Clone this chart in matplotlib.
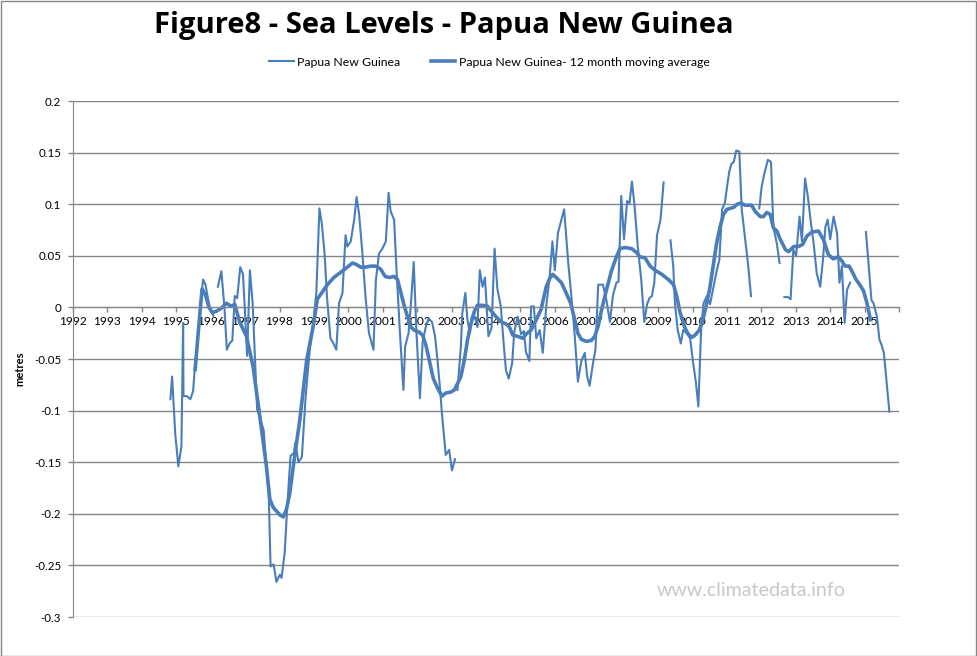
import numpy as np
import matplotlib
matplotlib.use("Agg")
import matplotlib.pyplot as plt
from matplotlib.lines import Line2D
from matplotlib.patches import Rectangle

nan = np.nan

title = "Figure8 - Sea Levels - Papua New Guinea"
raw_name = "Papua New Guinea"
ma_name = "Papua New Guinea- 12 month moving average"
y_label = "metres"
watermark = "www.climatedata.info"

year_ticks = list(range(1992, 2017))
year_labels = [str(y) for y in range(1992, 2016)] + [""]
y_ticks = [-0.3, -0.25, -0.2, -0.15, -0.1, -0.05, 0, 0.05, 0.1, 0.15, 0.2]
y_tick_labels = ["-0.3", "-0.25", "-0.2", "-0.15", "-0.1", "-0.05", "0", "0.05", "0.1", "0.15", "0.2"]

# monthly sea level (m), NaN marks gaps in the record
raw_years = [
    1994.83, 1994.88, 1994.97, 1995.06, 1995.15, 1995.2, 1995.21, 1995.31, 1995.41, 1995.49,
    1995.55, 1995.65, 1995.71, 1995.78, 1995.85, 1995.93, 1996.0, 1996.08, nan,
    1996.21, 1996.31, 1996.4, 1996.47, 1996.55, 1996.63, 1996.7, 1996.77, 1996.86, 1996.94,
    1997.06, 1997.14, 1997.22, 1997.35, 1997.45, 1997.54, 1997.69, 1997.74, 1997.83, 1997.91,
    1998.01, 1998.06, 1998.15, 1998.22, 1998.32, 1998.42, 1998.46, 1998.55, 1998.65, 1998.76,
    1998.88, 1999.0, 1999.07, 1999.16, 1999.23, 1999.31, 1999.38, 1999.48, 1999.57, 1999.65,
    1999.73, 1999.83, 1999.92, 1999.97, 2000.07, 2000.17, 2000.24, 2000.31, 2000.41, 2000.5,
    2000.6, 2000.73, 2000.8, 2000.89, 2000.99, 2001.09, 2001.17, 2001.23, 2001.33, 2001.41,
    2001.5, 2001.6, 2001.65, 2001.75, 2001.82, 2001.9, 2001.98, 2002.08, 2002.16, 2002.25,
    2002.33, 2002.43, 2002.52, 2002.59, 2002.66, 2002.72, 2002.79, 2002.83, 2002.93, 2003.01,
    2003.1, nan,
    2003.17, 2003.27, 2003.31, 2003.4, 2003.46, 2003.53, 2003.59, 2003.68, 2003.75, 2003.82,
    2003.9, 2003.97, 2004.07, 2004.16, 2004.25, 2004.33, 2004.43, 2004.52, 2004.58, 2004.66,
    2004.76, 2004.82, 2004.92, 2005.02, 2005.1, 2005.16, 2005.26, 2005.31, 2005.39, 2005.46,
    2005.56, 2005.65, 2005.75, 2005.85, 2005.93, 2006.0, 2006.09, 2006.19, 2006.27, 2006.39,
    2006.48, 2006.58, 2006.67, 2006.77, 2006.87, 2006.94, 2007.01, 2007.11, 2007.18, 2007.26,
    2007.4, 2007.5, 2007.6, 2007.69, 2007.79, 2007.85, 2007.93, 2008.01, 2008.1, 2008.17,
    2008.24, 2008.31, 2008.41, 2008.51, 2008.6, 2008.68, 2008.75, 2008.82, 2008.89, 2008.97,
    2009.07, 2009.16, nan,
    2009.36, 2009.44, 2009.49, 2009.57, 2009.66, 2009.73, 2009.83, 2009.93, 2010.02, 2010.1,
    2010.17, 2010.25, 2010.32, 2010.42, 2010.51, 2010.61, 2010.7, 2010.78, 2010.86, 2010.94,
    2011.0, 2011.07, 2011.13, 2011.2, 2011.27, 2011.36, 2011.43, 2011.53, 2011.61, 2011.7, nan,
    2011.94, 2012.01, 2012.09, 2012.19, 2012.28, 2012.35, 2012.45, 2012.53, nan,
    2012.67, 2012.77, 2012.85, 2012.93, 2013.01, 2013.11, 2013.18, 2013.27, 2013.35, 2013.44,
    2013.52, 2013.61, 2013.71, 2013.79, 2013.86, 2013.93, 2014.0, 2014.1, 2014.2, 2014.27,
    2014.34, 2014.42, 2014.49, 2014.58, nan,
    2015.04, 2015.12, 2015.2, 2015.26, 2015.36, 2015.43, 2015.49, 2015.56, 2015.64, 2015.72,
]
raw_values = [
    -0.089, -0.067, -0.122, -0.154, -0.135, -0.015, -0.086, -0.086, -0.089, -0.081,
    -0.054, -0.022, 0.005, 0.027, 0.022, 0.007, -0.003, -0.008, nan,
    0.020, 0.035, 0.000, -0.041, -0.035, -0.032, 0.011, 0.009, 0.039, 0.032,
    -0.047, 0.036, 0.004, -0.099, -0.109, -0.119, -0.185, -0.251, -0.249, -0.266,
    -0.259, -0.262, -0.238, -0.196, -0.144, -0.141, -0.131, -0.150, -0.145, -0.086,
    -0.041, -0.009, 0.014, 0.096, 0.081, 0.052, 0.010, -0.030, -0.035, -0.041,
    0.004, 0.014, 0.070, 0.059, 0.064, 0.085, 0.107, 0.091, 0.052, 0.010,
    -0.025, -0.041, 0.026, 0.052, 0.057, 0.064, 0.111, 0.093, 0.085, 0.030,
    -0.025, -0.080, -0.038, -0.025, 0.004, 0.044, -0.025, -0.088, -0.033, -0.019,
    -0.011, -0.014, -0.028, -0.051, -0.077, -0.103, -0.129, -0.143, -0.138, -0.158,
    -0.147, nan,
    -0.080, -0.038, -0.006, 0.014, -0.012, -0.025, -0.009, -0.009, -0.019, 0.036,
    0.020, 0.029, -0.028, -0.020, 0.057, 0.018, 0.001, -0.038, -0.061, -0.069,
    -0.054, -0.024, -0.009, -0.026, -0.023, -0.043, -0.052, 0.001, 0.001, -0.030,
    -0.022, -0.044, 0.001, 0.030, 0.064, 0.036, 0.072, 0.085, 0.095, 0.043,
    0.011, -0.028, -0.072, -0.052, -0.044, -0.067, -0.076, -0.054, -0.041, 0.022,
    0.022, 0.007, -0.014, 0.012, 0.024, 0.025, 0.108, 0.066, 0.103, 0.101,
    0.122, 0.101, 0.059, 0.027, -0.014, 0.003, 0.009, 0.011, 0.024, 0.070,
    0.085, 0.121, nan,
    0.065, 0.040, 0.004, -0.022, -0.035, -0.022, -0.025, -0.030, -0.054, -0.073,
    -0.096, -0.022, 0.004, 0.011, 0.003, 0.020, 0.035, 0.046, 0.095, 0.101,
    0.116, 0.132, 0.139, 0.141, 0.152, 0.151, 0.095, 0.066, 0.043, 0.011, nan,
    0.096, 0.117, 0.130, 0.143, 0.141, 0.078, 0.062, 0.043, nan,
    0.010, 0.010, 0.008, 0.056, 0.050, 0.088, 0.064, 0.125, 0.108, 0.082,
    0.062, 0.033, 0.020, 0.046, 0.078, 0.085, 0.066, 0.088, 0.072, 0.024,
    0.040, -0.015, 0.017, 0.024, nan,
    0.073, 0.040, 0.007, 0.004, -0.009, -0.031, -0.036, -0.044, -0.073, -0.101,
]

# 12 month moving average (m)
ma_years = [
    1995.55, 1995.65, 1995.75, 1995.85, 1995.95, 1996.05, 1996.15, 1996.3, 1996.46, 1996.6,
    1996.7, 1996.84, 1997.04, 1997.23, 1997.43, 1997.62, 1997.72, 1997.82, 1998.01, 1998.11,
    1998.2, 1998.3, 1998.4, 1998.59, 1998.79, 1998.98, 1999.1, 1999.39, 1999.58, 1999.78,
    1999.97, 2000.12, 2000.21, 2000.36, 2000.5, 2000.65, 2000.8, 2000.94, 2001.07, 2001.19,
    2001.33, 2001.43, 2001.53, 2001.62, 2001.72, 2001.82, 2001.91, 2002.06, 2002.16, 2002.25,
    2002.35, 2002.47, 2002.59, 2002.72, 2002.83, 2002.98, 2003.08, 2003.17, 2003.27, 2003.37,
    2003.46, 2003.56, 2003.66, 2003.75, 2003.9, 2004.05, 2004.14, 2004.29, 2004.44, 2004.58,
    2004.68, 2004.78, 2004.92, 2005.07, 2005.16, 2005.31, 2005.46, 2005.6, 2005.75, 2005.85,
    2005.94, 2006.04, 2006.19, 2006.33, 2006.46, 2006.58, 2006.67, 2006.77, 2006.92, 2007.06,
    2007.16, 2007.26, 2007.36, 2007.5, 2007.65, 2007.79, 2007.89, 2008.04, 2008.23, 2008.38,
    2008.47, 2008.62, 2008.77, 2008.91, 2009.11, 2009.3, 2009.45, 2009.54, 2009.64, 2009.78,
    2009.88, 2009.98, 2010.07, 2010.2, 2010.3, 2010.4, 2010.5, 2010.6, 2010.7, 2010.8,
    2010.9, 2011.0, 2011.1, 2011.2, 2011.3, 2011.4, 2011.53, 2011.72, 2011.82, 2011.97,
    2012.06, 2012.16, 2012.26, 2012.35, 2012.45, 2012.55, 2012.7, 2012.79, 2012.94, 2013.08,
    2013.2, 2013.32, 2013.47, 2013.66, 2013.8, 2013.95, 2014.09, 2014.24, 2014.34, 2014.43,
    2014.55, 2014.65, 2014.75, 2014.84, 2014.97, 2015.07, 2015.17,
]
ma_values = [
    -0.060, -0.020, 0.018, 0.012, 0.000, -0.005, -0.004, -0.001, 0.004, 0.001,
    0.003, -0.014, -0.028, -0.057, -0.106, -0.154, -0.186, -0.194, -0.201, -0.203,
    -0.196, -0.180, -0.154, -0.109, -0.051, -0.018, 0.008, 0.022, 0.029, 0.034,
    0.039, 0.043, 0.042, 0.039, 0.039, 0.040, 0.040, 0.037, 0.030, 0.029,
    0.030, 0.027, 0.014, 0.002, -0.009, -0.019, -0.022, -0.024, -0.027, -0.036,
    -0.051, -0.069, -0.078, -0.086, -0.083, -0.082, -0.080, -0.074, -0.067, -0.051,
    -0.032, -0.016, -0.004, 0.002, 0.002, 0.001, -0.003, -0.009, -0.014, -0.016,
    -0.019, -0.027, -0.028, -0.030, -0.026, -0.022, -0.012, -0.002, 0.020, 0.028,
    0.032, 0.029, 0.024, 0.014, 0.004, -0.012, -0.025, -0.031, -0.033, -0.032,
    -0.028, -0.018, -0.002, 0.017, 0.036, 0.049, 0.057, 0.058, 0.057, 0.053,
    0.049, 0.048, 0.040, 0.036, 0.032, 0.027, 0.022, 0.011, -0.005, -0.020,
    -0.026, -0.029, -0.027, -0.022, -0.012, 0.002, 0.018, 0.040, 0.062, 0.078,
    0.090, 0.095, 0.096, 0.097, 0.100, 0.101, 0.099, 0.099, 0.093, 0.088,
    0.088, 0.092, 0.090, 0.077, 0.074, 0.066, 0.056, 0.054, 0.059, 0.059,
    0.061, 0.069, 0.073, 0.074, 0.066, 0.051, 0.047, 0.049, 0.045, 0.040,
    0.040, 0.034, 0.027, 0.023, 0.016, 0.004, -0.012,
]

W, H = 977, 656
LINE = "#4A7EBB"
GRID = "#868686"
FONT = "Lato"

fig = plt.figure(figsize=(W / 100, H / 100), dpi=100)
ax = fig.add_axes([73 / W, (H - 617) / H, 826 / W, 516 / H])

ax.plot(raw_years, raw_values, color=LINE, lw=1.5, label=raw_name, solid_joinstyle="round")
ax.plot(ma_years, ma_values, color=LINE, lw=2.6, label=ma_name, solid_joinstyle="round")

ax.set_xlim(1992, 2016)
ax.set_ylim(-0.3, 0.2)
for s in ("top", "right"):
    ax.spines[s].set_visible(False)
ax.spines["left"].set_color(GRID)
ax.spines["bottom"].set_color(GRID)
ax.spines["bottom"].set_position(("data", 0))
ax.set_yticks(y_ticks)
ax.set_yticklabels(y_tick_labels)
ax.set_xticks(year_ticks)
ax.set_xticklabels(year_labels)
ax.yaxis.grid(True, color=GRID, lw=1.0)
ax.set_axisbelow(True)
ax.tick_params(axis="x", length=3.5, width=1, color=GRID, pad=3, labelsize=8.6, labelfontfamily=FONT)
ax.tick_params(axis="y", length=3.5, width=1, color=GRID, pad=5, labelsize=8.3, labelfontfamily=FONT)

fig.text(20 / W, 1 - 369 / H, y_label, rotation=90, ha="center", va="center",
         fontsize=8, fontweight="bold", family=FONT)
t_title = fig.text(443.5 / W, 1 - 26 / H, title, ha="center", va="center",
                   fontsize=17, fontweight="bold", family="Open Sans")
t_wm = fig.text(751.5 / W, 1 - 591 / H, watermark, ha="center", va="center",
                fontsize=13.5, color="#C8C8C8", family=FONT)

handles = [Line2D([], [], color=LINE, lw=1.5), Line2D([], [], color=LINE, lw=2.6)]
fig.legend(handles, [raw_name, ma_name], loc="center", bbox_to_anchor=(489.5 / W, 1 - 62 / H),
           ncol=2, frameon=False, prop={"family": FONT, "size": 8.8},
           handlelength=2.0, handletextpad=0.3, columnspacing=2.5)

# scale title / watermark to the widths measured on the reference
fig.canvas.draw()
r = fig.canvas.get_renderer()
for t, target in ((t_title, 579.0), (t_wm, 189.0)):
    w = t.get_window_extent(r).width
    t.set_fontsize(t.get_fontsize() * target / w)

fig.patches.append(Rectangle((0.5 / W, 0.5 / H), 1 - 1.5 / W, 1 - 1.5 / H, transform=fig.transFigure,
                             fill=False, edgecolor=GRID, lw=1))

fig.savefig("out.png", dpi=100, facecolor="white")
